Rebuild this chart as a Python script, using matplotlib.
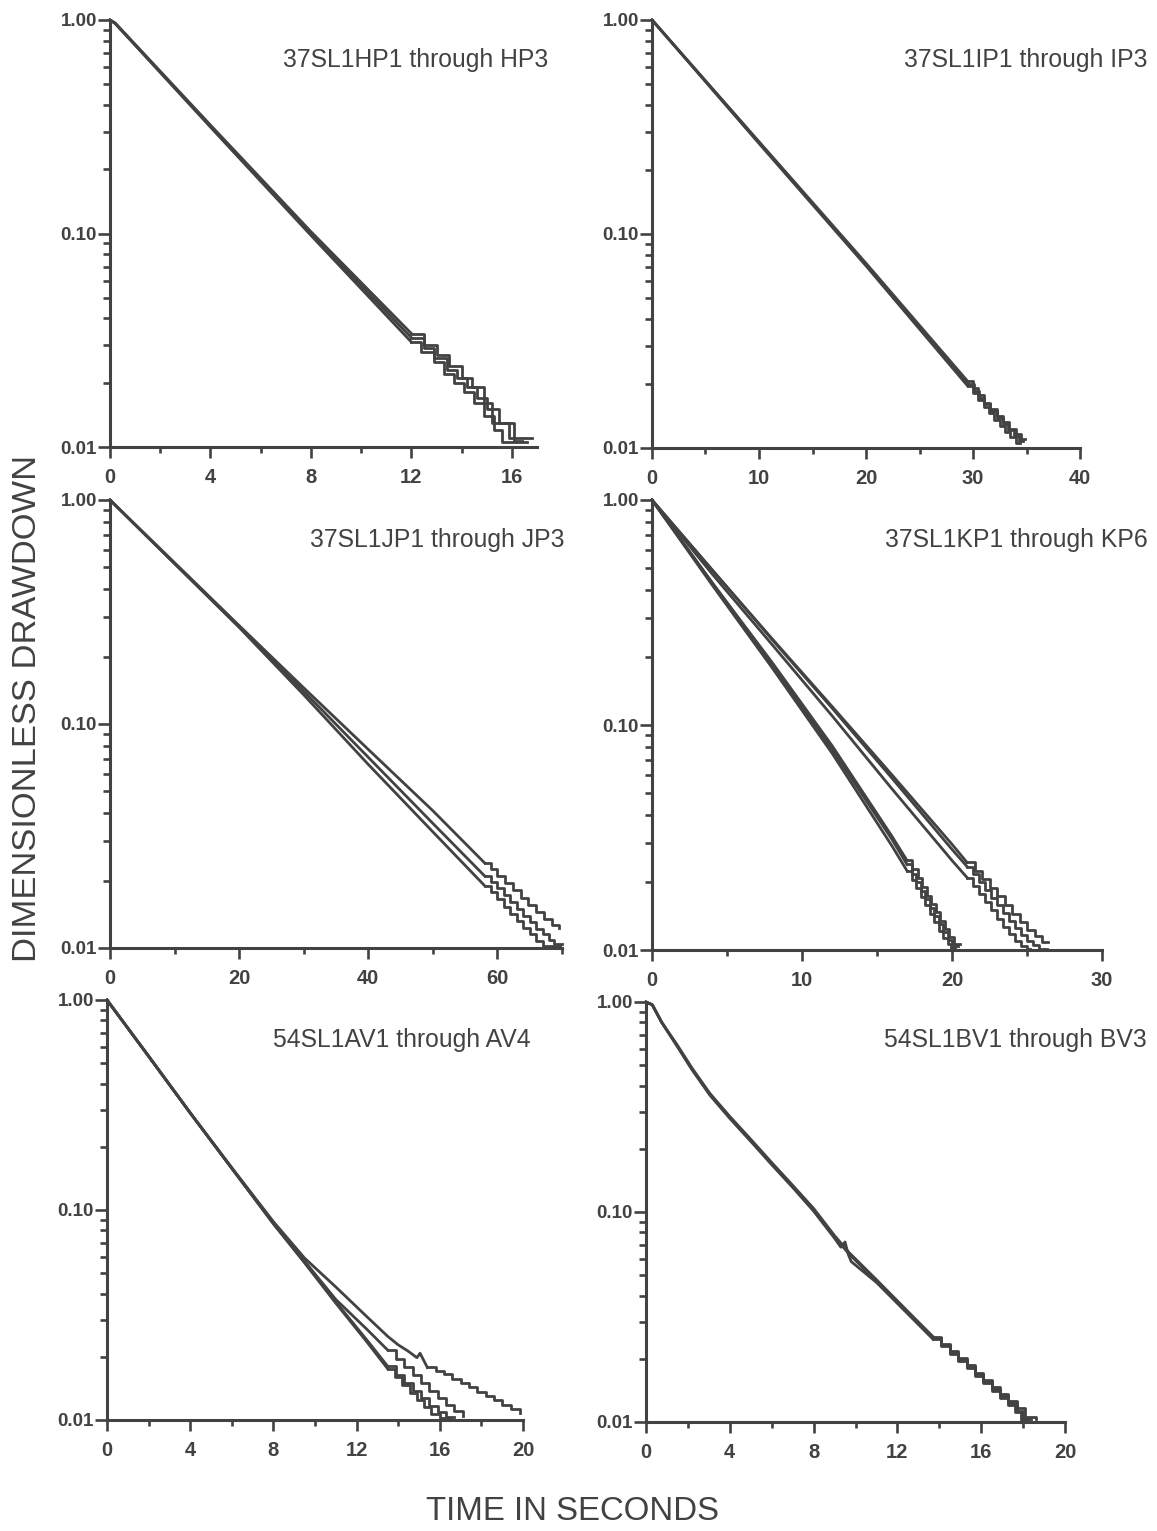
import numpy as np
import matplotlib
matplotlib.use("Agg")
import matplotlib.pyplot as plt
from matplotlib.ticker import MultipleLocator, LogLocator, NullFormatter, FixedLocator

# ---- data (time in s, dimensionless drawdown) ----
# each record = smooth part + quantised (stair-step) tail

# 37SL1HP1-HP3
hp_t = [0, 0.2, 4, 8, 12.0]
hp1_y = [1.0, 0.965, 0.315, 0.098, 0.031]
hp2_y = [1.0, 0.965, 0.318, 0.100, 0.0325]
hp3_y = [1.0, 0.97, 0.322, 0.102, 0.034]
hp1_tail_t = [12.0, 12.4, 12.9, 13.3, 13.7, 14.1, 14.5, 14.9, 15.3, 15.6, 16.6]
hp1_tail_y = [0.031, 0.028, 0.025, 0.022, 0.020, 0.018, 0.016, 0.014, 0.012, 0.0105, 0.0105]
hp2_tail_t = [12.0, 12.5, 12.9, 13.4, 13.8, 14.2, 14.6, 15.0, 15.5, 15.9, 16.8]
hp2_tail_y = [0.0325, 0.029, 0.026, 0.023, 0.021, 0.019, 0.017, 0.015, 0.013, 0.011, 0.011]
hp3_tail_t = [12.0, 12.5, 13.0, 13.5, 14.0, 14.4, 14.9, 15.2, 16.1, 16.4]
hp3_tail_y = [0.034, 0.030, 0.027, 0.024, 0.021, 0.019, 0.016, 0.0129, 0.0107, 0.0107]

# 37SL1IP1-IP3
ip_t = [0, 0.2, 10, 20, 29.5]
ip1_y = [1.0, 0.975, 0.265, 0.071, 0.0195]
ip2_y = [1.0, 0.975, 0.268, 0.072, 0.020]
ip3_y = [1.0, 0.975, 0.27, 0.073, 0.0205]
ip1_tail_t = [29.5, 30, 30.5, 31, 31.5, 32, 32.5, 33, 33.5, 34, 34.4]
ip1_tail_y = [0.0195, 0.018, 0.0167, 0.0155, 0.0145, 0.0135, 0.0127, 0.0119, 0.0112, 0.0106, 0.0106]
ip2_tail_t = [29.5, 30.1, 30.6, 31.0, 31.6, 32.2, 32.8, 33.3, 33.8, 34.3, 34.7]
ip2_tail_y = [0.020, 0.0185, 0.0172, 0.016, 0.0149, 0.0138, 0.0129, 0.0121, 0.0114, 0.0108, 0.0108]
ip3_tail_t = [29.5, 30.0, 30.5, 31, 31.6, 32.2, 32.8, 33.4, 34.0, 34.5, 34.9]
ip3_tail_y = [0.0205, 0.019, 0.0176, 0.0163, 0.0152, 0.0141, 0.0132, 0.0123, 0.0116, 0.011, 0.011]

# 37SL1JP1-JP3
jp_t = [0, 10, 20, 30, 40, 50, 58]
jp1_y = [1.0, 0.52, 0.27, 0.135, 0.066, 0.033, 0.019]
jp2_y = [1.0, 0.52, 0.272, 0.14, 0.071, 0.036, 0.021]
jp3_y = [1.0, 0.525, 0.275, 0.145, 0.077, 0.041, 0.024]
jp1_tail_t = [58, 59, 60, 61, 62, 63, 64, 65, 66, 67, 69.7]
jp1_tail_y = [0.019, 0.0177, 0.0165, 0.0153, 0.0142, 0.0132, 0.0123, 0.0115, 0.0108, 0.0102, 0.0102]
jp2_tail_t = [58, 59, 60, 61, 62, 63, 64, 65, 66, 67, 68, 68.8, 70]
jp2_tail_y = [0.021, 0.0197, 0.0185, 0.0172, 0.016, 0.0149, 0.0139, 0.013, 0.0122, 0.0115, 0.0109, 0.0104, 0.0104]
jp3_tail_t = [58, 59, 60, 61.2, 62.4, 63.6, 64.8, 66, 67.2, 68.4, 69.6]
jp3_tail_y = [0.024, 0.0225, 0.021, 0.0195, 0.0181, 0.0168, 0.0156, 0.0145, 0.0135, 0.0127, 0.0123]

# 37SL1KP1-KP6 (KP1-3 fast group, KP4-6 slow group)
kp_fast_t = [0, 4, 8, 12, 16, 17.0]
kp1_y = [1.0, 0.42, 0.18, 0.075, 0.029, 0.0225]
kp2_y = [1.0, 0.43, 0.185, 0.078, 0.031, 0.024]
kp3_y = [1.0, 0.43, 0.19, 0.081, 0.032, 0.025]
kp1_tail_t = [17.0, 17.3, 17.6, 17.9, 18.2, 18.5, 18.8, 19.1, 19.4, 19.7, 19.9, 20.2]
kp1_tail_y = [0.0225, 0.0205, 0.0188, 0.0172, 0.0158, 0.0145, 0.0133, 0.0122, 0.0113, 0.0106, 0.0102, 0.0102]
kp2_tail_t = [17.0, 17.3, 17.6, 17.9, 18.2, 18.5, 18.8, 19.1, 19.4, 19.7, 20.0, 20.4]
kp2_tail_y = [0.024, 0.0218, 0.02, 0.0183, 0.0168, 0.0154, 0.0141, 0.013, 0.012, 0.0111, 0.0104, 0.0104]
kp3_tail_t = [17.0, 17.3, 17.7, 18.0, 18.3, 18.6, 18.9, 19.2, 19.5, 19.8, 20.1, 20.5]
kp3_tail_y = [0.025, 0.0228, 0.0208, 0.019, 0.0174, 0.016, 0.0147, 0.0135, 0.0124, 0.0114, 0.0106, 0.0106]
kp_slow_t = [0, 4, 8, 12, 16, 20, 21]
kp4_y = [1.0, 0.47, 0.228, 0.11, 0.052, 0.025, 0.021]
kp5_y = [1.0, 0.49, 0.24, 0.119, 0.058, 0.028, 0.0235]
kp6_y = [1.0, 0.49, 0.242, 0.121, 0.06, 0.0295, 0.0245]
kp4_tail_t = [21, 21.4, 21.8, 22.2, 22.6, 23.0, 23.4, 23.8, 24.2, 24.6, 25.0, 25.2]
kp4_tail_y = [0.021, 0.0193, 0.0177, 0.0163, 0.015, 0.0138, 0.0127, 0.0118, 0.011, 0.0104, 0.0101, 0.0101]
kp5_tail_t = [21, 21.4, 21.8, 22.2, 22.6, 23.0, 23.4, 23.8, 24.2, 24.6, 25.0, 25.4, 25.8, 26.3]
kp5_tail_y = [0.0235, 0.0217, 0.02, 0.0185, 0.0171, 0.0158, 0.0146, 0.0135, 0.0125, 0.0117, 0.011, 0.0105, 0.0101, 0.0101]
kp6_tail_t = [21, 21.5, 22.0, 22.5, 23.0, 23.5, 24.0, 24.5, 25.0, 25.5, 26.0, 26.4]
kp6_tail_y = [0.0245, 0.0225, 0.0206, 0.0189, 0.0173, 0.0158, 0.0145, 0.0133, 0.0123, 0.0115, 0.0109, 0.0109]

# 54SL1AV1-AV4
av_t = [0, 2, 4, 6, 8, 9.5, 11, 12.5, 13.5]
av1_y = [1.0, 0.54, 0.29, 0.158, 0.086, 0.056, 0.036, 0.0235, 0.0175]
av2_y = [1.0, 0.54, 0.29, 0.158, 0.086, 0.0565, 0.0365, 0.024, 0.018]
av3_y = [1.0, 0.54, 0.29, 0.158, 0.087, 0.057, 0.0375, 0.027, 0.0215]
av4_t = [0, 2, 4, 6, 8, 9.5, 11, 12.5, 13.5, 14.0, 14.5, 14.9, 15.05, 15.4]
av4_y = [1.0, 0.54, 0.29, 0.159, 0.088, 0.059, 0.043, 0.031, 0.025, 0.0228, 0.0212, 0.0198, 0.0208, 0.0178]
av1_tail_t = [13.5, 13.85, 14.2, 14.55, 14.9, 15.25, 15.6, 16.0, 16.5]
av1_tail_y = [0.0175, 0.016, 0.0147, 0.0135, 0.0124, 0.0115, 0.0107, 0.0102, 0.0102]
av2_tail_t = [13.5, 13.9, 14.3, 14.7, 15.1, 15.5, 15.9, 16.3, 16.7]
av2_tail_y = [0.018, 0.0164, 0.015, 0.0138, 0.0127, 0.0117, 0.0109, 0.0103, 0.0103]
av3_tail_t = [13.5, 13.9, 14.3, 14.7, 15.1, 15.5, 15.9, 16.3, 16.7, 17.1]
av3_tail_y = [0.0215, 0.0196, 0.0179, 0.0164, 0.015, 0.0138, 0.0127, 0.0118, 0.011, 0.0104]
av4_tail_t = [15.4, 15.8, 16.2, 16.6, 17.0, 17.4, 17.8, 18.2, 18.6, 19.0, 19.4, 19.85]
av4_tail_y = [0.0178, 0.0172, 0.0165, 0.0157, 0.0150, 0.0143, 0.0136, 0.013, 0.0124, 0.0118, 0.0113, 0.0108]

# 54SL1BV1-BV3
bv_t = [0, 0.3, 0.75, 1.5, 2.2, 3.05, 4, 5, 6, 7, 8, 9, 9.7, 11, 12.5, 13.7]
bv1_y = [1.0, 0.97, 0.80, 0.617, 0.479, 0.363, 0.282, 0.219, 0.170, 0.132, 0.102, 0.0759, 0.063, 0.0468, 0.0331, 0.0251]
bv2_y = [1.0, 0.97, 0.80, 0.622, 0.484, 0.367, 0.285, 0.222, 0.172, 0.134, 0.104, 0.0772, 0.064, 0.0476, 0.0336, 0.0255]
bv3_t = [0, 0.3, 0.75, 1.5, 2.2, 3.05, 4, 5, 6, 7, 8, 9, 9.3, 9.5, 9.65, 9.8, 11, 12.5, 13.7]
bv3_y = [1.0, 0.97, 0.80, 0.612, 0.475, 0.36, 0.279, 0.217, 0.168, 0.131, 0.101, 0.075, 0.068, 0.072, 0.063, 0.058, 0.0462, 0.0327, 0.0248]
bv1_tail_t = [13.7, 14.1, 14.5, 14.9, 15.3, 15.7, 16.1, 16.5, 16.9, 17.3, 17.7, 18.0, 18.4]
bv1_tail_y = [0.0251, 0.0232, 0.0214, 0.0198, 0.0183, 0.0169, 0.0156, 0.0144, 0.0133, 0.0123, 0.0113, 0.0103, 0.0103]
bv2_tail_t = [13.7, 14.1, 14.5, 14.9, 15.3, 15.7, 16.1, 16.5, 16.9, 17.3, 17.7, 18.1, 18.6]
bv2_tail_y = [0.0255, 0.0236, 0.0218, 0.0201, 0.0186, 0.0172, 0.0159, 0.0147, 0.0136, 0.0126, 0.0116, 0.0106, 0.0103]
bv3_tail_t = [13.7, 14.1, 14.5, 14.9, 15.3, 15.7, 16.1, 16.5, 16.9, 17.3, 17.6, 17.9, 18.2]
bv3_tail_y = [0.0248, 0.0229, 0.0211, 0.0195, 0.018, 0.0166, 0.0153, 0.0141, 0.013, 0.012, 0.0111, 0.0102, 0.0102]

titles = ["37SL1HP1 through HP3", "37SL1IP1 through IP3",
          "37SL1JP1 through JP3", "37SL1KP1 through KP6",
          "54SL1AV1 through AV4", "54SL1BV1 through BV3"]

# ---- layout (pixels of a 1157 x 1531 canvas) ----
W, H = 1157, 1531
INK = "#424242"
plt.rcParams["font.family"] = ["Liberation Sans", "DejaVu Sans"]

fig = plt.figure(figsize=(W / 100, H / 100), dpi=100)


def px_axes(left, right, top, bottom):
    return fig.add_axes([left / W, 1 - bottom / H, (right - left) / W, (bottom - top) / H])


def style(ax, xmax, major, minor):
    ax.set_yscale("log")
    ax.set_xlim(0, xmax)
    ax.set_ylim(0.01, 1.0)
    ax.yaxis.set_major_locator(FixedLocator([0.01, 0.1, 1.0]))
    ax.set_yticklabels(["0.01", "0.10", "1.00"])
    ax.yaxis.set_minor_locator(LogLocator(base=10, subs=np.arange(2, 10)))
    ax.yaxis.set_minor_formatter(NullFormatter())
    ax.xaxis.set_major_locator(MultipleLocator(major))
    ax.xaxis.set_minor_locator(MultipleLocator(minor))
    for s in ["top", "right"]:
        ax.spines[s].set_visible(False)
    for s in ["left", "bottom"]:
        ax.spines[s].set_color(INK)
        ax.spines[s].set_linewidth(2.2)
    ax.tick_params(axis="both", which="both", color=INK, width=1.9, direction="out")
    ax.tick_params(axis="y", which="major", length=9, pad=0.5, labelsize=13.5, labelcolor=INK)
    ax.tick_params(axis="y", which="minor", length=5)
    ax.tick_params(axis="x", which="major", length=8, pad=7, labelsize=14.5, labelcolor=INK)
    ax.tick_params(axis="x", which="minor", length=4.5)
    for lab in ax.get_xticklabels() + ax.get_yticklabels():
        lab.set_fontweight("bold")


def curve(ax, t, y, tail_t=None, tail_y=None):
    ax.plot(t, y, color=INK, lw=2.0, clip_on=False)
    if tail_t is not None:
        ax.plot(tail_t, tail_y, color=INK, lw=2.0, drawstyle="steps-post", clip_on=False)


ax1 = px_axes(110, 537, 20, 447)
style(ax1, 17, 4, 2)
curve(ax1, hp_t, hp1_y, hp1_tail_t, hp1_tail_y)
curve(ax1, hp_t, hp2_y, hp2_tail_t, hp2_tail_y)
curve(ax1, hp_t, hp3_y, hp3_tail_t, hp3_tail_y)

ax2 = px_axes(652, 1080, 20, 448)
style(ax2, 40, 10, 5)
curve(ax2, ip_t, ip1_y, ip1_tail_t, ip1_tail_y)
curve(ax2, ip_t, ip2_y, ip2_tail_t, ip2_tail_y)
curve(ax2, ip_t, ip3_y, ip3_tail_t, ip3_tail_y)

ax3 = px_axes(110, 562, 500, 948)
style(ax3, 70, 20, 10)
curve(ax3, jp_t, jp1_y, jp1_tail_t, jp1_tail_y)
curve(ax3, jp_t, jp2_y, jp2_tail_t, jp2_tail_y)
curve(ax3, jp_t, jp3_y, jp3_tail_t, jp3_tail_y)

ax4 = px_axes(652, 1102, 500, 950)
style(ax4, 30, 10, 5)
curve(ax4, kp_fast_t, kp1_y, kp1_tail_t, kp1_tail_y)
curve(ax4, kp_fast_t, kp2_y, kp2_tail_t, kp2_tail_y)
curve(ax4, kp_fast_t, kp3_y, kp3_tail_t, kp3_tail_y)
curve(ax4, kp_slow_t, kp4_y, kp4_tail_t, kp4_tail_y)
curve(ax4, kp_slow_t, kp5_y, kp5_tail_t, kp5_tail_y)
curve(ax4, kp_slow_t, kp6_y, kp6_tail_t, kp6_tail_y)

ax5 = px_axes(107, 523, 1000, 1420)
style(ax5, 20, 4, 2)
curve(ax5, av_t, av1_y, av1_tail_t, av1_tail_y)
curve(ax5, av_t, av2_y, av2_tail_t, av2_tail_y)
curve(ax5, av_t, av3_y, av3_tail_t, av3_tail_y)
curve(ax5, av4_t, av4_y, av4_tail_t, av4_tail_y)

ax6 = px_axes(646, 1065, 1002, 1422)
style(ax6, 20, 4, 2)
curve(ax6, bv_t, bv1_y, bv1_tail_t, bv1_tail_y)
curve(ax6, bv_t, bv2_y, bv2_tail_t, bv2_tail_y)
curve(ax6, bv3_t, bv3_y, bv3_tail_t, bv3_tail_y)

# panel captions (right edge x, centre y in pixels)
title_pos = [(548, 60), (1148, 60), (565, 540), (1148, 540), (531, 1040), (1147, 1040)]
for txt, (xr, yc) in zip(titles, title_pos):
    fig.text(xr / W, 1 - yc / H, txt, ha="right", va="center", fontsize=17.8, color=INK)

fig.text(28 / W, 1 - 708 / H, "DIMENSIONLESS DRAWDOWN", rotation=90,
         ha="center", va="center", fontsize=24.8, color=INK)
fig.text(573 / W, 1 - 1512 / H, "TIME IN SECONDS", ha="center", va="center",
         fontsize=23.8, color=INK)

fig.savefig("out.png", dpi=100, facecolor="white")
